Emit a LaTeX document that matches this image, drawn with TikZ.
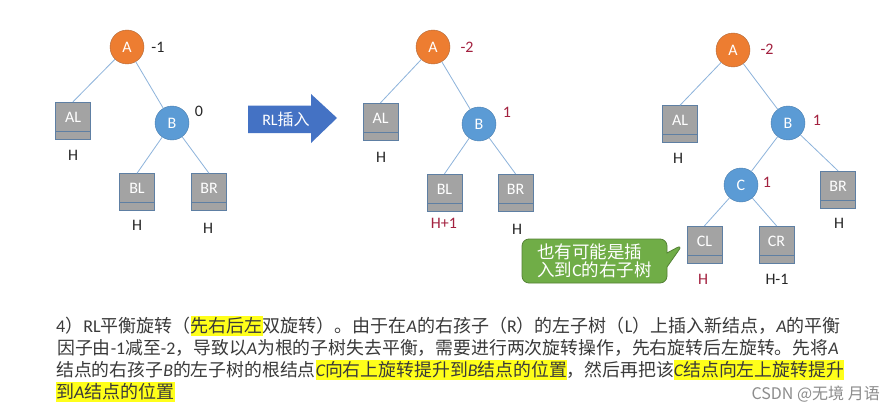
\documentclass[tikz,border=0pt]{standalone}
\usepackage{fontspec}
\setmainfont{Noto Sans CJK SC}
\newfontfamily\lat{Carlito}
\usetikzlibrary{shapes.callouts, positioning}
\definecolor{nodeorange}{HTML}{ED7D31}
\definecolor{orangeedge}{HTML}{B0693A}
\definecolor{nodeblue}{HTML}{5B9BD5}
\definecolor{blueedge}{HTML}{4A7EAE}
\definecolor{boxgray}{HTML}{A3A3A3}
\definecolor{boxedge}{HTML}{5E7FA3}
\definecolor{linkblue}{HTML}{8DB3DB}
\definecolor{arrowblue}{HTML}{4472C4}
\definecolor{hintgreen}{HTML}{70AD47}
\definecolor{hintedge}{HTML}{548235}
\definecolor{bfred}{HTML}{A3213F}
\definecolor{textgray}{HTML}{3A3A3A}
\definecolor{hlyellow}{HTML}{FFFF1A}
\newcommand\la[1]{{\lat #1}}
\newcommand\iv[1]{{\lat\itshape #1}}
\newcommand\hl[1]{{\setlength\fboxsep{0pt}\colorbox{hlyellow}{\rule[-3.5pt]{0pt}{20pt}#1}}}

\begin{document}
\begin{tikzpicture}[
    x=1pt, y=-1pt,
    rootnode/.style={circle, fill=nodeorange, draw=orangeedge, minimum size=34pt, inner sep=0pt, text=white, font=\lat\fontsize{16}{16}\selectfont},
    childnode/.style={rootnode, fill=nodeblue, draw=blueedge},
    subtree/.style={rectangle, fill=boxgray, draw=boxedge, minimum width=35pt, minimum height=37pt, inner sep=0pt, text height=11pt, text depth=8pt, text=white, font=\lat\fontsize{16}{16}\selectfont,
        path picture={\draw[boxedge] ([yshift=8pt]path picture bounding box.south west) -- ([yshift=8pt]path picture bounding box.south east);}},
    hlabel/.style={inner sep=0pt, text=black!85, font=\lat\fontsize{16}{16}\selectfont},
    bf/.style={hlabel},
    bfhot/.style={hlabel, text=bfred},
    link/.style={draw=linkblue, line width=0.8pt},
    para/.style={anchor=base west, inner sep=0pt, text=textgray, font=\fontsize{18}{22}\selectfont}
]
\useasboundingbox[fill=white] (0,0) rectangle (896,412);

\node[rootnode] (A1) at (127,47) {A};
\node[subtree] (AL1) at (73,120.5) {AL};
\node[childnode] (B1) at (172,123) {B};
\node[subtree] (BL1) at (137,192) {BL};
\node[subtree] (BR1) at (209,192) {BR};
\node[bf] (fA1) at (158,47) {-1};
\node[bf] (fB1) at (199,111) {0};
\node[hlabel] (hAL1) at (73,155) {H};
\node[hlabel] (hBL1) at (137,225) {H};
\node[hlabel] (hBR1) at (208,228) {H};
\draw[link] (A1) -- (AL1.north);
\draw[link] (A1) -- (B1);
\draw[link] (B1) -- (BL1.north);
\draw[link] (B1) -- (BR1.north);

\coordinate (arrowc) at (286,119);
\fill[arrowblue, shift={(arrowc)}] (-38,-13.5) -- (25,-13.5) -- (25,-25) -- (51,-1) -- (25,24) -- (25,14) -- (-38,14) -- cycle;
\node[text=white, inner sep=0pt, font=\fontsize{16}{16}\selectfont] (insert) at (arrowc) {\la{RL}插入};

\node[rootnode] (A2) at (433,47) {A};
\node[subtree] (AL2) at (380.5,121.5) {AL};
\node[childnode] (B2) at (479,124) {B};
\node[subtree] (BL2) at (444.5,192.5) {BL};
\node[subtree] (BR2) at (515.5,192.5) {BR};
\node[bfhot] (fA2) at (467,47) {-2};
\node[bfhot] (fB2) at (507,112) {1};
\node[hlabel] (hAL2) at (381,157) {H};
\node[hlabel, text=bfred] (hBL2) at (444,223) {H+1};
\node[hlabel] (hBR2) at (517,229) {H};
\draw[link] (A2) -- (AL2.north);
\draw[link] (A2) -- (B2);
\draw[link] (B2) -- (BL2.north);
\draw[link] (B2) -- (BR2.north);

\node[rootnode] (A3) at (733,50) {A};
\node[subtree] (AL3) at (680,124) {AL};
\node[childnode] (B3) at (788,123) {B};
\node[childnode] (C3) at (741,185) {C};
\node[subtree] (BR3) at (838,189.5) {BR};
\node[subtree] (CL3) at (704.5,244.5) {CL};
\node[subtree] (CR3) at (776.5,244.5) {CR};
\node[bfhot] (fA3) at (767,49) {-2};
\node[bfhot] (fB3) at (817,120) {1};
\node[bfhot] (fC3) at (767,182) {1};
\node[hlabel] (hAL3) at (678,158) {H};
\node[hlabel] (hBR3) at (839,223) {H};
\node[hlabel, text=bfred] (hCL3) at (703,279) {H};
\node[hlabel] (hCR3) at (777,279) {H-1};
\draw[link] (A3) -- (AL3.north);
\draw[link] (A3) -- (B3);
\draw[link] (B3) -- (C3);
\draw[link] (B3) -- (BR3.north);
\draw[link] (C3) -- (CL3.north);
\draw[link] (C3) -- (CR3.north);

\node[rectangle callout, rounded corners=7pt, fill=hintgreen, draw=hintedge, line width=0.8pt, text=white,
      minimum width=145pt, minimum height=44pt, inner sep=0pt, align=left, callout pointer width=14pt,
      callout absolute pointer={([xshift=-4pt]CL3.west)}, font=\fontsize{17.5}{18}\selectfont]
      (hint) at (594.5,261) {也有可能是插\\入到\la{C}的右子树};

\node[para] (line1) at (56,332) {\la{4}）\la{RL}平衡旋转（\hl{先右后左}双旋转）。由于在\iv{A}的右孩子（\la{R}）的左子树（\la{L}）上插入新结点，\iv{A}的平衡};
\node[para, font=\fontsize{17.85}{22}\selectfont] (line2) at (57,354.5) {因子由\la{-1}减至\la{-2}，导致以\iv{A}为根的子树失去平衡，需要进行两次旋转操作，先右旋转后左旋转。先将\iv{A}};
\node[para, font=\fontsize{17.85}{22}\selectfont] (line3) at (56,376.5) {结点的右孩子\iv{B}的左子树的根结点\hl{\iv{C}向右上旋转提升到\iv{B}结点的位置}，然后再把该\hl{\iv{C}结点向左上旋转提升}};
\node[para] (line4) at (56,398) {\hl{到\iv{A}结点的位置}};

\node[anchor=base east, inner sep=0pt, text=black!45, font=\fontsize{16}{16}\selectfont] (mark) at (880,399) {CSDN @无境 月语};
\end{tikzpicture}
\end{document}
